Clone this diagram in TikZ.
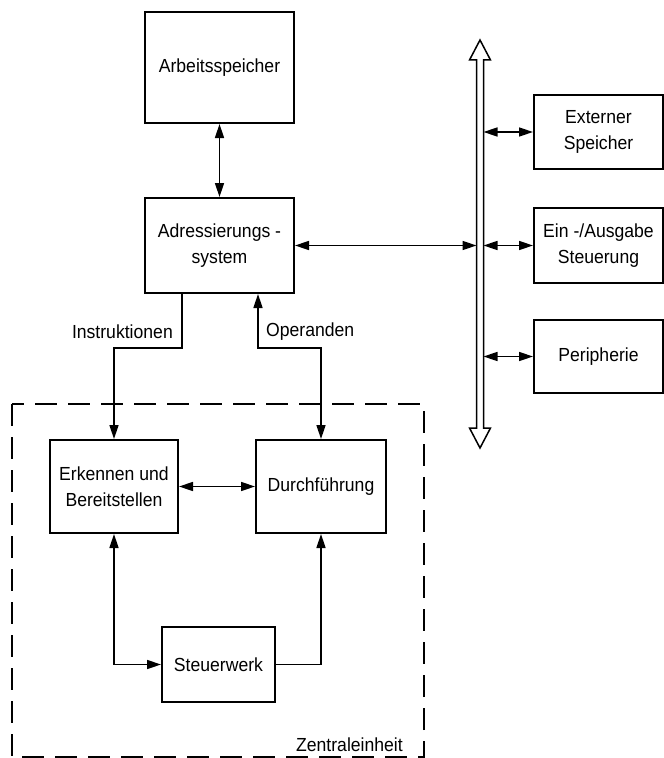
\documentclass[tikz,border=0pt]{standalone}
\usepackage{fontspec}
\setmainfont{Liberation Sans}[FakeStretch=0.93]
\usetikzlibrary{arrows.meta}
\begin{document}
\begin{tikzpicture}[x=1bp,y=-1bp,
  box/.style={draw, line width=2bp, inner sep=0pt, align=center, font=\fontsize{19}{26}\selectfont},
  lbl/.style={inner sep=0pt, font=\fontsize{19}{26}\selectfont},
  conn/.style={line width=1.6bp},
  both/.style={conn, {Triangle[length=14bp,width=9bp]}-{Triangle[length=14bp,width=9bp]}},
  fwd/.style={conn, -{Triangle[length=14bp,width=9bp]}},
  busline/.style={line width=1.5bp, line join=miter},
  frame/.style={line width=2bp, dash pattern=on 22bp off 11bp}]
\useasboundingbox (0,0) rectangle (664,758);

% boxes
\node[box, minimum width=149bp, minimum height=111bp] (arb) at (219.5,67.5) {Arbeitsspeicher};
\node[box, minimum width=149bp, minimum height=95bp] (adr) at (219.5,245.5) {Adressierungs -\\system};
\node[box, minimum width=129bp, minimum height=74bp] (ext) at (598.5,132) {Externer\\Speicher};
\node[box, minimum width=129bp, minimum height=75bp] (eio) at (598.5,245.5) {Ein -/Ausgabe\\Steuerung};
\node[box, minimum width=129bp, minimum height=73bp] (per) at (598.5,356.5) {Peripherie};
\node[box, minimum width=128bp, minimum height=93bp] (erk) at (114,486.5) {Erkennen und\\Bereitstellen};
\node[box, minimum width=130bp, minimum height=93bp] (dur) at (321,486.5) {Durchführung};
\node[box, minimum width=113bp, minimum height=75bp] (steu) at (218.5,664.5) {Steuerwerk};

% dashed frame (Zentraleinheit)
\draw[frame] (12,404) rectangle (424,757);
\node[lbl, anchor=base east] (zent) at (403,751) {Zentraleinheit};

% bus
\draw[busline] (480,40) -- (490.5,60) -- (483.5,60) -- (483.5,428) -- (490.5,428) -- (480,448)
  -- (469.5,428) -- (476.5,428) -- (476.5,60) -- (469.5,60) -- cycle;
\coordinate (busL) at (476.5,247);
\coordinate (busR) at (483.5,247);

% connectors
\draw[both] (arb) -- (adr);
\draw[both] (adr.east) -- (adr.east -| busL);
\draw[both] (busR |- ext.west) -- (ext.west);
\draw[both] (busR |- eio.west) -- (eio.west);
\draw[both] (busR |- per.west) -- (per.west);

\coordinate (ins) at (182,348);
\coordinate (opr) at (258,348);
\draw[fwd] (ins |- adr.south) -- (ins) -| (erk.north);
\draw[both] (opr |- adr.south) -- (opr) -| (dur.north);
\node[lbl, anchor=east] (linstr) at (173,332) {Instruktionen};
\node[lbl, anchor=west] (loper) at (266,332) {Operanden};

\draw[both] (erk.east) -- (dur.west);
\draw[both] (erk.south) |- (steu.west);
\draw[fwd] (steu.east) -| (dur.south);
\end{tikzpicture}
\end{document}
